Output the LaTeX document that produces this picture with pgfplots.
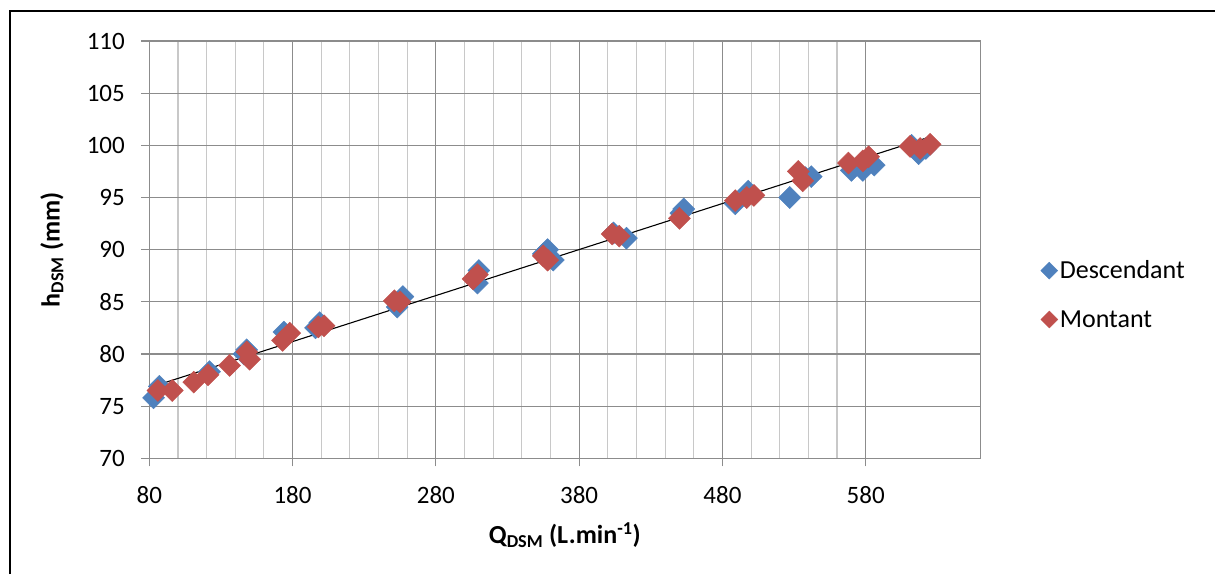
\documentclass[border=0pt]{standalone}
\usepackage{pgfplots}
\pgfplotsset{compat=1.18}
\usepackage{fontspec}
\setmainfont{Carlito}
\definecolor{xblue}{HTML}{4F81BD}
\definecolor{xred}{HTML}{C0504D}
\definecolor{gmaj}{HTML}{8C8C8C}
\definecolor{gmin}{HTML}{C8C8C8}
\begin{document}
\begin{tikzpicture}
\path[use as bounding box] (-149.3pt,-115.7pt) rectangle (1065.7pt,458.3pt);
\begin{axis}[
  at={(0pt,0pt)}, anchor=south west,
  scale only axis, width=831pt, height=417.3pt,
  xmin=80, xmax=660, ymin=70, ymax=110,
  xtick={80,180,280,380,480,580},
  ytick={70,75,...,110},
  minor x tick num=4,
  minor tick length=0pt,
  major tick length=8pt,
  tick align=outside,
  tick pos=left,
  grid=both,
  major grid style={gmaj, line width=1.1pt},
  minor grid style={gmin, line width=1.1pt},
  axis line style={gmaj, line width=1.1pt},
  major tick style={gmaj, line width=1.1pt},
  ticklabel style={font=\fontsize{25}{29}\selectfont},
  /pgf/number format/assume math mode=true,
  xticklabel style={yshift=-17pt},
  yticklabel style={xshift=-13pt},
  xlabel={\textbf{Q\textsubscript{DSM} (L.min\textsuperscript{-1})}},
  ylabel={\textbf{h\textsubscript{DSM} (mm)}},
  xlabel style={font=\fontsize{26}{30}\selectfont, at={(axis description cs:0.5,-0.184)}, anchor=center},
  ylabel style={font=\fontsize{26}{30}\selectfont, at={(axis description cs:-0.117,0.5)}, anchor=center, rotate=0},
  legend style={at={(1.069,0.392)}, anchor=west, draw=none, fill=none,
    font=\fontsize{26}{30}\selectfont, row sep=26pt,
    nodes={inner sep=2pt}},
  legend cell align=left,
  legend image code/.code={\draw[#1,mark size=6pt] plot coordinates {(-3pt,0pt)};},
]
\addplot[only marks, mark=square*, mark size=7.8pt, mark options={rotate=45, fill=xblue, draw=xblue}] coordinates {
(83,75.8) (87,76.9) (122,78.3) (148,80.4) (146,80.0) (174,82.1) (196,82.5) (199,83.0)
(253,84.5) (257,85.5) (309,86.8) (310,88.0) (355,89.6) (358,90.0) (362,89.0)
(404,91.6) (413,91.1) (451,93.5) (453,93.9) (489,94.4) (498,95.6) (527,95.0)
(538,96.9) (542,97.0) (570,97.6) (578,97.6) (586,98.1) (612,100.0) (617,99.2) (622,99.7)
};
\addlegendentry{Descendant}
\addplot[only marks, mark=square*, mark size=7.8pt, mark options={rotate=45, fill=xred, draw=xred}] coordinates {
(86,76.5) (96,76.5) (111,77.3) (121,78.0) (136,78.9) (148,80.2) (150,79.5) (173,81.3)
(178,82.0) (198,82.6) (202,82.7) (251,85.1) (255,85.0) (306,87.2) (309,87.6)
(355,89.4) (358,89.0) (403,91.5) (408,91.3) (450,93.0) (489,94.7) (497,95.0) (502,95.2)
(533,97.5) (536,96.6) (568,98.3) (578,98.5) (582,98.9) (611,99.9) (618,99.7) (625,100.1)
};
\addlegendentry{Montant}
\addplot[black, line width=1.1pt, forget plot] coordinates {(87.4,77.1) (624.6,100.8)};
\end{axis}
\draw[black, line width=2pt] (-139.3pt,-115.7pt) -- (-139.3pt,447.3pt) -- (1065.7pt,447.3pt);
\end{tikzpicture}
\end{document}
